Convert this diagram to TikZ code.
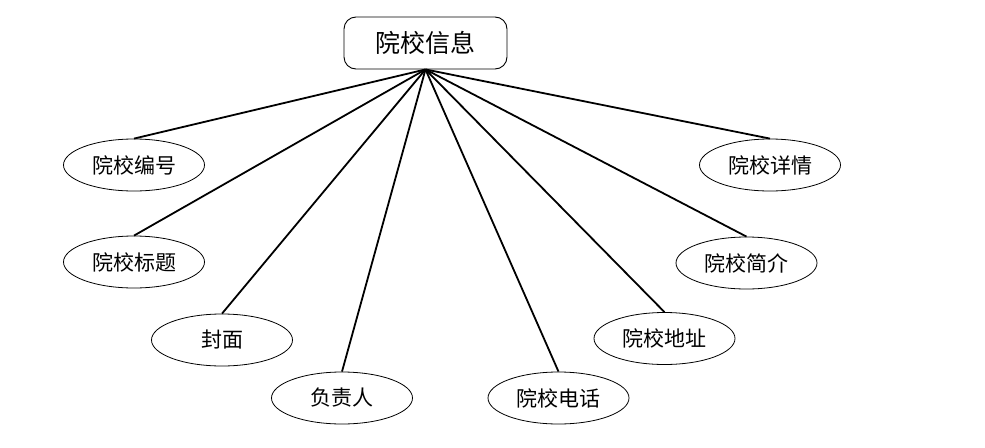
\documentclass[tikz,border=0pt]{standalone}
\usepackage{fontspec}
\setmainfont{Noto Sans CJK SC}
\usetikzlibrary{shapes.geometric}

\tikzset{
    entity/.style={draw, line width=0.9pt, rounded corners=12pt, minimum width=163pt, minimum height=52pt, inner sep=0pt, font=\fontsize{25}{28}\selectfont},
    attr/.style={draw, ellipse, line width=0.8pt, minimum width=141pt, minimum height=52pt, inner sep=0pt, font=\fontsize{21}{24}\selectfont},
    link/.style={line width=1.8pt}
}

\begin{document}
\begin{tikzpicture}[x=1pt, y=-1pt]
    % Frame
    \useasboundingbox (0,0) rectangle (985,447);

    % Entity
    \node[entity] (info) at (425.5,43) {院校信息};

    % Attributes, left side
    \node[attr] (num) at (134,165) {院校编号};
    \node[attr] (title) at (134,262) {院校标题};
    \node[attr] (cover) at (222,340) {封面};
    \node[attr] (head) at (342,398) {负责人};

    % Attributes, right side
    \node[attr] (phone) at (558.5,398) {院校电话};
    \node[attr] (addr) at (664.5,338.5) {院校地址};
    \node[attr] (intro) at (746.5,263) {院校简介};
    \node[attr] (detail) at (770,165) {院校详情};

    % Links
    \foreach \a in {num, title, cover, head, phone, addr, intro, detail}
        \draw[link] (info.south) -- (\a.north);
\end{tikzpicture}
\end{document}
